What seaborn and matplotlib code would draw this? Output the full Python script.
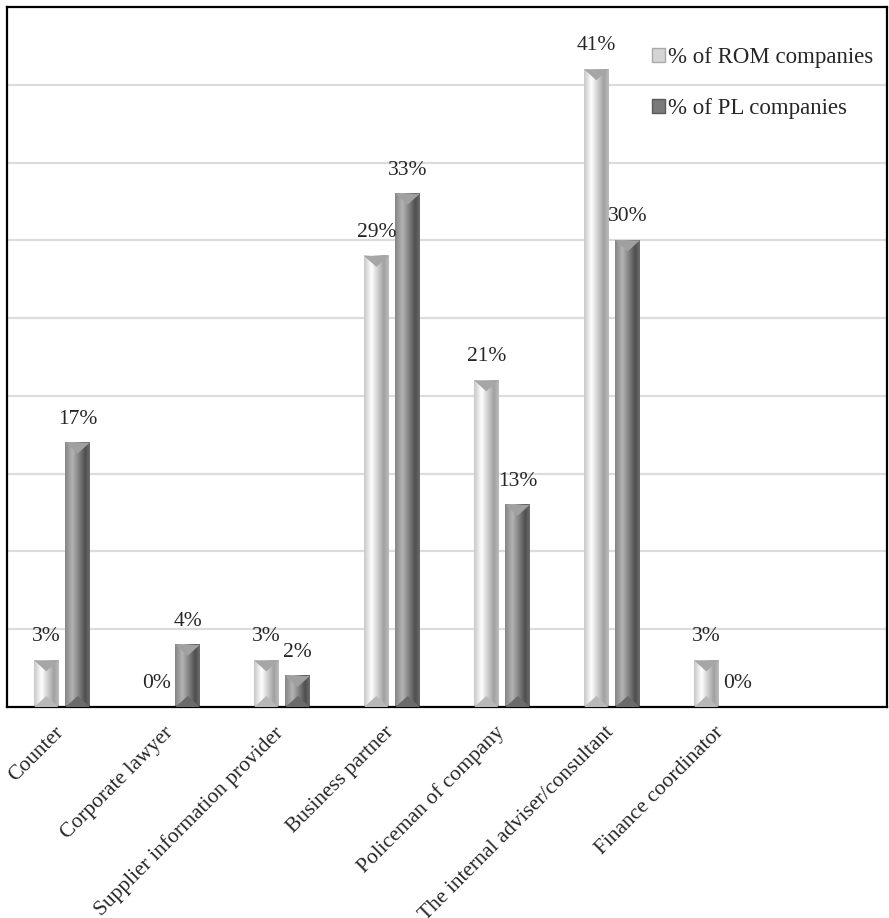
"""
Role of finance department: ROM vs PL companies, beveled grey bars
"""
import numpy as np
import pandas as pd
import matplotlib
matplotlib.use("Agg")
import matplotlib.pyplot as plt
from matplotlib.colors import LinearSegmentedColormap
from matplotlib.patches import Patch, Polygon
from matplotlib.transforms import ScaledTranslation
import seaborn as sns

# data (percent)
categories = ["Counter", "Corporate lawyer", "Supplier information provider",
              "Business partner", "Policeman of company",
              "The internal adviser/consultant", "Finance coordinator"]
series = ["% of ROM companies", "% of PL companies"]
rom_values = [3, 0, 3, 29, 21, 41, 3]
pl_values = [17, 4, 2, 33, 13, 30, 0]

sns.set_style("white")
plt.rcParams['font.family'] = ['Liberation Serif', 'DejaVu Serif']

df = pd.DataFrame({
    "role": categories * 2,
    "series": [series[0]] * len(categories) + [series[1]] * len(categories),
    "value": rom_values + pl_values,
})

fig = plt.figure(figsize=(8.89, 9.18), dpi=100)
W, H = 889, 918
ax = fig.add_axes([7 / W, (H - 707) / H, (887 - 7) / W, (707 - 7) / H])

base_colors = {series[0]: "#e6e6e6", series[1]: "#8c8c8c"}
sns.barplot(data=df, x="role", y="value", hue="series", order=categories,
            hue_order=series, palette=base_colors, width=0.57, gap=0.22,
            linewidth=0, legend=False, ax=ax)

XMAX = 7.5
YMAX = 45
ax.set_xlim(-0.5, XMAX)
ax.set_ylim(0, YMAX)
ax.set_yticks(np.arange(5, YMAX, 5))
ax.yaxis.grid(True, color="#dcdcdc", linewidth=1.6)
ax.set_axisbelow(True)
ax.tick_params(axis="y", left=False, labelleft=False)
ax.tick_params(axis="x", bottom=False, pad=8)
ax.set_xlabel("")
ax.set_ylabel("")
for s in ax.spines.values():
    s.set_color("black")
    s.set_linewidth(1.6)
ax.set_xticks(range(len(categories)))
ax.set_xticklabels(categories, rotation=45, ha="right",
                   rotation_mode="anchor", fontsize=15.5)
shift = ScaledTranslation(-8 / 100, 0, fig.dpi_scale_trans)
for lab in ax.get_xticklabels():
    lab.set_transform(lab.get_transform() + shift)

# beveled look: horizontal gradient plus top/bottom facets
cmaps = [
    LinearSegmentedColormap.from_list("rom", [(0, "#c8c8c8"), (0.3, "#ffffff"),
                                              (0.8, "#a0a0a0"), (1, "#bcbcbc")]),
    LinearSegmentedColormap.from_list("pl", [(0, "#858585"), (0.3, "#b4b4b4"),
                                             (0.82, "#4e4e4e"), (1, "#6c6c6c")]),
]
facet_top = ["#a6a6a6", "#a0a0a0"]
facet_bot = ["#b8b8b8", "#6a6a6a"]
ax_h_px = 700
dy = YMAX / ax_h_px
grad = np.linspace(0, 1, 64)[None, :]
for k, cont in enumerate(ax.containers):
    for bar in cont:
        x0, w, h = bar.get_x(), bar.get_width(), bar.get_height()
        if h <= 0:
            continue
        ax.imshow(grad, extent=[x0, x0 + w, 0, h], aspect="auto",
                  cmap=cmaps[k], zorder=2.5, interpolation="bicubic")
        d = min(11 * dy, h / 2)
        xc = x0 + w / 2
        ax.add_patch(Polygon([(x0, h), (x0 + w, h), (xc, h - d)],
                             closed=True, color=facet_top[k], lw=0, zorder=2.6))
        ax.add_patch(Polygon([(x0, 0), (x0 + w, 0), (xc, d)],
                             closed=True, color=facet_bot[k], lw=0, zorder=2.6))
    labels = [f"{v:.0f}%" for v in cont.datavalues]
    ax.bar_label(cont, labels=labels, padding=10, fontsize=15.5, zorder=3)

ax.set_xlim(-0.5, XMAX)
ax.set_ylim(0, YMAX)

handles = [Patch(facecolor="#d4d4d4", edgecolor="#aaaaaa"),
           Patch(facecolor="#7a7a7a", edgecolor="#5a5a5a")]
ax.legend(handles, series, loc="upper right", bbox_to_anchor=(1.0, 0.962),
          frameon=False, fontsize=16.5, handlelength=0.55, handleheight=0.55,
          handletextpad=0.15, labelspacing=1.3, borderaxespad=0.2)

fig.savefig("out.png", dpi=100)
